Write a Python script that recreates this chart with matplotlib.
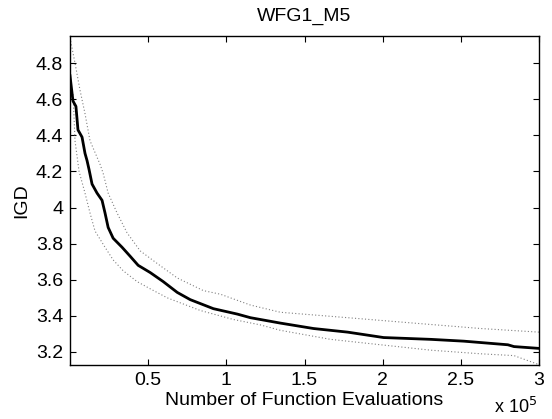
import matplotlib
matplotlib.use("Agg")
import matplotlib.pyplot as plt
import numpy as np

plt.rcParams.update({"font.family": ["Liberation Sans", "DejaVu Sans"], "font.size": 14})

# function evaluations and IGD (mean, upper, lower)
mean_evals = [0, 1900, 3800, 5100, 7700, 9600, 10900, 12200, 14100, 17300, 20500,
              22400, 24400, 27600, 33300, 38500, 43600, 51300, 59600, 68600, 76900,
              91700, 107000, 115400, 134600, 155800, 177600, 200600, 230800,
              251900, 280100, 284000, 300000]
mean_igd = [4.73, 4.59, 4.56, 4.43, 4.39, 4.30, 4.26, 4.21, 4.13, 4.08, 4.04,
            3.97, 3.89, 3.83, 3.78, 3.73, 3.68, 3.64, 3.59, 3.53, 3.49,
            3.44, 3.41, 3.39, 3.36, 3.33, 3.31, 3.28, 3.27,
            3.26, 3.24, 3.23, 3.22]

upper_evals = [0, 3200, 6400, 9600, 12800, 19200, 21200, 24400, 30100, 36500,
               44900, 55800, 68600, 85300, 96200, 115400, 134600, 177600, 219900,
               262800, 300000]
upper_igd = [4.94, 4.80, 4.65, 4.52, 4.37, 4.24, 4.19, 4.08, 3.97, 3.86,
             3.76, 3.69, 3.61, 3.54, 3.52, 3.46, 3.42, 3.39, 3.36,
             3.33, 3.31]

lower_evals = [0, 1900, 2600, 3200, 5800, 9600, 12800, 16000, 22400, 27600,
               34000, 42900, 51300, 62200, 83300, 104500, 121800, 134600,
               166700, 198700, 230800, 262800, 284000, 300000]
lower_igd = [4.68, 4.63, 4.50, 4.37, 4.20, 4.08, 3.97, 3.87, 3.78, 3.71,
             3.65, 3.59, 3.55, 3.50, 3.43, 3.38, 3.35, 3.32,
             3.27, 3.24, 3.21, 3.19, 3.18, 3.13]

x_ticks = [0.5, 1, 1.5, 2, 2.5, 3]
x_tick_labels = ["0.5", "1", "1.5", "2", "2.5", "3"]
y_ticks = [3.2, 3.4, 3.6, 3.8, 4.0, 4.2, 4.4, 4.6, 4.8]
y_tick_labels = ["3.2", "3.4", "3.6", "3.8", "4", "4.2", "4.4", "4.6", "4.8"]

fig = plt.figure(figsize=(5.52, 4.19), dpi=100)
ax = fig.add_axes([70 / 552, 1 - 365 / 419, 469 / 552, 329 / 419])

ax.plot(np.array(upper_evals) / 1e5, upper_igd, color="#808080", lw=0.8, ls=(0, (1, 2)))
ax.plot(np.array(lower_evals) / 1e5, lower_igd, color="#808080", lw=0.8, ls=(0, (1, 2)))
ax.plot(np.array(mean_evals) / 1e5, mean_igd, color="black", lw=2)

ax.set_xlim(0, 3)
ax.set_ylim(min(lower_igd) - 0.002, max(upper_igd) + 0.01)
ax.set_xticks(x_ticks)
ax.set_xticklabels(x_tick_labels)
ax.set_yticks(y_ticks)
ax.set_yticklabels(y_tick_labels)
ax.tick_params(direction="in", top=True, right=True, length=4, width=0.8, pad=5)
for s in ax.spines.values():
    s.set_linewidth(1.0)

ax.set_xlabel("Number of Function Evaluations", labelpad=2)
ax.set_ylabel("IGD", labelpad=4)
ax.set_title("WFG1_M5", fontsize=14, pad=11)
fig.text(537 / 552, 1 - 407 / 419, r"x 10$^5$", ha="right", va="center", fontsize=13)

fig.savefig("out.png", dpi=100)
